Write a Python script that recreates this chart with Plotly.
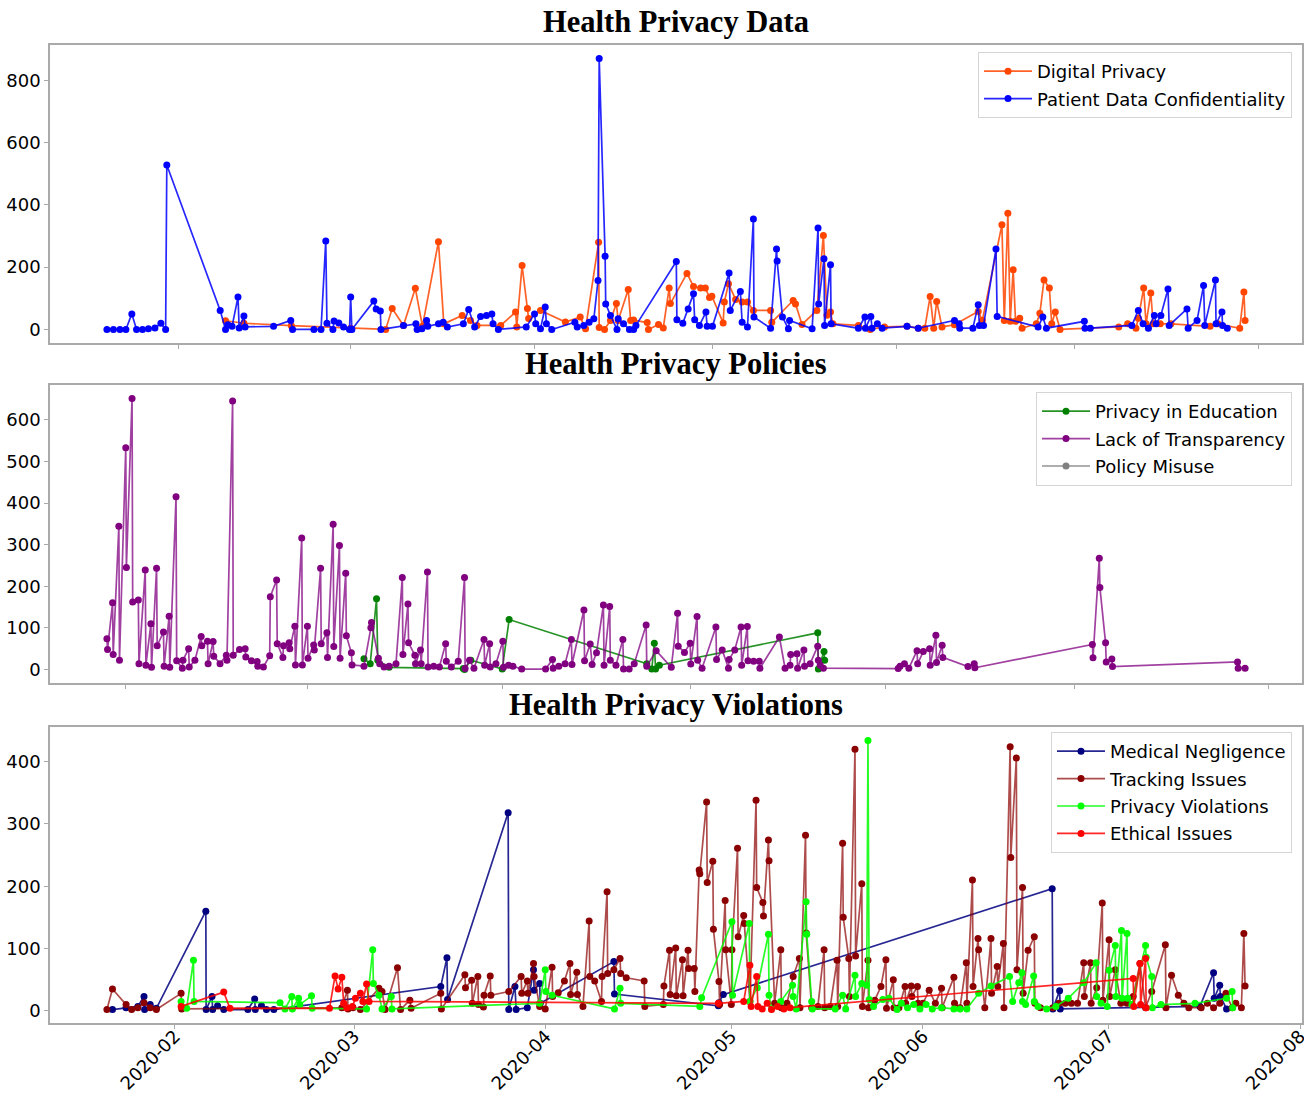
import numpy as np
import pandas as pd
import plotly.graph_objects as go

# ---------------- DATA (day = days since 2020-01-01, value) ----------------
digital_privacy = [(38.9,28),(42.0,20),(50.0,12),(60.0,4),(65.9,0),(67.0,67),(68.9,13),(70.9,132),(72.1,10),(74.8,282),(75.7,18),(78.8,45),(80.2,29),(81.3,13),(85.3,13),(87.8,56),(88.0,8),(88.9,205),(89.8,67),(90.0,35),(92.0,61),(96.2,24),(98.7,40),(99.6,2),(101.8,280),(101.9,6),(102.8,0),(103.8,29),(104.8,83),(105.1,29),(106.8,128),(107.2,29),(107.7,30),(110.0,22),(110.2,0),(111.9,16),(112.7,5),(113.7,133),(113.9,83),(116.7,180),(117.8,138),(119.0,133),(119.8,133),(120.5,103),(120.9,107),(122.8,21),(123.0,88),(123.7,147),(124.9,96),(126.0,88),(126.9,88),(127.9,61),(130.8,61),(131.0,23),(134.6,93),(135.0,82),(136.1,16),(138.6,61),(139.7,302),(140.3,46),(140.9,56),(141.3,18),(145.6,13),(147.6,0),(150.0,8),(153.8,10),(155.7,4),(156.8,4),(157.7,106),(158.3,4),(158.8,90),(159.7,8),(161.8,15),(165.8,58),(166.5,29),(169.8,336),(170.2,29),(170.8,373),(171.2,26),(171.7,192),(172.1,26),(172.8,36),(173.2,4),(175.6,18),(176.2,52),(176.9,159),(177.8,133),(178.2,18),(178.8,56),(179.6,0),(189.5,8),(191.0,18),(192.4,4),(192.8,36),(193.7,133),(194.1,18),(194.9,117),(195.3,18),(196.5,18),(198.3,18),(204.9,10),(206.2,18),(209.9,4),(210.6,120),(210.8,29)]

patient_data = [(18.9,0),(20.0,0),(21.1,0),(22.1,0),(23.1,50),(23.9,0),(24.9,0),(25.9,2),(27.0,5),(28.0,20),(28.8,0),(29.0,528),(38.0,61),(38.9,0),(39.3,15),(40.0,10),(41.0,104),(41.2,5),(42.0,43),(42.2,8),(47.0,10),(49.9,29),(50.2,0),(53.8,0),(55.0,0),(55.8,284),(56.0,20),(57.0,0),(57.2,27),(58.0,21),(58.8,8),(59.8,0),(60.0,104),(60.2,0),(63.9,91),(64.3,66),(65.0,59),(65.1,0),(68.9,13),(71.0,18),(71.2,0),(72.0,2),(72.8,29),(73.0,10),(74.8,18),(75.6,23),(76.3,8),(79.0,18),(79.9,64),(80.9,8),(81.9,42),(82.9,45),(83.8,50),(84.0,18),(84.9,0),(89.6,8),(91.0,50),(91.2,18),(92.0,2),(92.8,72),(93.0,18),(93.9,0),(97.8,23),(98.2,8),(99.3,13),(100.2,23),(101.0,34),(101.7,157),(101.9,870),(102.9,235),(103.0,82),(103.8,45),(104.9,0),(105.1,34),(106.0,18),(107.0,0),(107.7,0),(108.1,13),(114.9,218),(115.0,31),(116.0,20),(116.9,66),(117.8,115),(118.0,31),(118.8,13),(119.9,56),(120.1,10),(121.0,10),(123.8,181),(124.0,61),(125.7,122),(126.0,23),(126.9,8),(127.9,355),(128.0,40),(130.8,4),(131.8,258),(131.9,220),(132.8,40),(133.8,2),(134.0,29),(137.8,2),(138.8,326),(138.9,82),(139.8,227),(139.9,13),(140.9,208),(141.0,18),(145.6,4),(146.7,40),(146.8,4),(147.7,42),(147.9,4),(148.8,18),(149.6,4),(153.8,10),(155.7,4),(161.8,29),(162.6,18),(162.7,4),(164.9,4),(165.8,79),(166.0,13),(166.7,13),(168.8,258),(169.0,42),(175.9,8),(176.7,40),(177.3,4),(183.7,26),(183.8,4),(184.7,4),(191.7,13),(192.8,61),(193.6,18),(194.5,4),(195.5,45),(195.8,18),(196.6,45),(197.8,130),(198.0,13),(201.0,66),(201.2,4),(202.7,29),(203.8,141),(204.0,13),(205.8,159),(205.9,18),(206.9,56),(207.0,13),(207.8,4)]

privacy_education = [(69.0,26),(70.0,14),(71.0,170),(71.2,22),(73.0,5),(84.8,2),(85.0,0),(86.0,22),(91.0,1),(92.1,120),(114.0,14),(114.8,1),(115.2,63),(115.4,1),(116.0,10),(141.2,88),(141.3,1),(142.2,43),(142.3,22)]

lack_transparency = [(28.1,74),(28.2,48),(29.0,160),(29.1,36),(30.0,344),(30.1,22),(31.1,533),(31.2,245),(32.1,651),(32.2,162),(33.1,167),(33.2,14),(34.2,239),(34.3,10),(35.1,110),(35.2,5),(36.0,243),(36.1,57),(37.1,90),(37.2,8),(38.0,128),(38.1,5),(39.1,415),(39.2,21),(40.1,3),(40.2,22),(41.1,50),(41.2,6),(42.1,22),(43.1,79),(43.2,57),(44.1,68),(44.2,14),(45.0,67),(45.1,32),(46.1,14),(47.1,34),(47.2,22),(48.1,645),(48.2,34),(49.2,48),(50.1,50),(50.2,30),(51.1,21),(52.0,19),(52.1,8),(53.0,6),(54.0,33),(54.1,175),(55.1,215),(55.2,62),(56.1,29),(56.2,57),(57.1,64),(57.2,50),(58.0,104),(58.1,11),(59.1,316),(59.2,11),(60.0,104),(60.1,27),(61.0,59),(61.1,47),(62.1,243),(62.2,62),(63.1,88),(63.2,29),(64.1,349),(64.2,55),(65.1,298),(65.2,27),(66.1,231),(66.2,81),(67.0,40),(67.1,11),(69.0,8),(70.1,100),(70.2,113),(71.3,27),(71.5,14),(72.2,6),(73.0,8),(74.1,14),(75.1,221),(75.2,36),(76.0,157),(76.1,64),(77.1,34),(77.2,14),(78.0,47),(78.1,14),(79.1,234),(79.2,6),(80.1,8),(81.0,6),(82.0,62),(82.1,20),(82.9,6),(84.0,20),(85.0,221),(85.1,2),(85.8,22),(86.5,3),(88.1,72),(88.2,10),(89.0,62),(89.1,6),(90.0,14),(91.1,68),(91.2,5),(92.0,10),(92.7,8),(94.1,1),(97.9,1),(99.0,24),(99.1,3),(100.0,8),(101.0,14),(102.0,72),(102.1,12),(104.0,143),(104.1,21),(105.0,61),(105.3,12),(106.0,40),(107.1,155),(107.2,10),(108.1,151),(108.2,22),(109.1,10),(110.2,72),(110.3,1),(111.2,1),(112.0,14),(113.9,107),(114.0,8),(115.5,45),(117.9,5),(118.9,135),(119.0,56),(120.0,41),(120.9,63),(121.0,13),(122.0,127),(122.1,22),(122.8,3),(125.0,102),(125.1,24),(126.0,47),(127.0,3),(127.1,24),(128.0,47),(129.0,102),(129.1,10),(130.0,103),(130.1,21),(131.0,20),(131.9,20),(132.0,3),(135.1,78),(136.0,3),(136.8,10),(136.9,36),(137.9,38),(138.0,3),(139.0,47),(139.1,8),(140.0,14),(141.2,56),(141.3,22),(141.6,10),(142.1,3),(154.0,2),(154.3,8),(155.0,14),(155.7,3),(157.0,45),(157.1,14),(158.0,43),(159.0,50),(159.1,10),(160.0,82),(160.1,17),(161.0,58),(161.1,29),(165.1,7),(166.1,14),(166.2,4),(184.9,60),(185.0,28),(186.0,267),(186.1,197),(187.0,64),(187.1,18),(188.0,25),(188.1,7),(208.0,18),(208.1,3),(209.2,3)]

policy_misuse = []

medical_negligence = [(20.9,2),(23.1,5),(25.0,7),(26.0,23),(26.1,2),(27.0,10),(28.0,4),(36.0,160),(36.05,2),(37.0,23),(37.1,2),(37.9,8),(38.9,2),(42.8,2),(43.9,19),(44.0,2),(45.0,8),(45.8,2),(47.0,2),(74.0,39),(75.0,85),(75.1,18),(84.9,318),(85.0,2),(86.0,39),(86.2,2),(88.0,5),(89.0,66),(89.1,33),(90.0,44),(90.1,12),(102.0,79),(102.1,27),(118.9,8),(119.0,13),(119.7,26),(172.9,196),(173.0,3),(174.1,32),(174.2,3),(196.8,7),(199.0,61),(199.1,20),(200.0,41),(200.1,23),(201.1,3)]

tracking_issues = [(20.0,2),(20.9,35),(23.1,10),(24.0,2),(25.0,5),(26.0,13),(27.0,5),(28.0,2),(32.0,28),(32.1,3),(58.0,5),(58.9,33),(59.0,3),(59.8,5),(61.0,2),(64.0,36),(64.5,31),(65.0,2),(67.0,69),(67.5,2),(69.0,17),(69.2,4),(74.0,28),(74.1,3),(77.9,58),(78.0,37),(79.0,49),(79.1,12),(80.0,55),(80.1,10),(80.9,6),(81.0,25),(82.0,56),(82.1,25),(85.0,31),(87.0,55),(87.1,28),(88.0,48),(88.1,28),(89.0,76),(89.1,55),(90.0,7),(90.9,3),(92.0,70),(92.1,23),(93.0,29),(94.0,48),(94.9,76),(95.0,26),(96.0,62),(96.1,26),(97.0,7),(98.0,144),(98.1,55),(98.9,48),(100.0,15),(100.1,55),(100.9,191),(101.0,60),(102.0,66),(103.0,84),(103.1,60),(104.0,53),(106.9,48),(107.0,7),(110.0,10),(110.1,40),(111.0,97),(111.1,26),(112.0,101),(112.1,24),(113.1,82),(113.2,24),(114.0,97),(114.1,68),(115.0,68),(115.1,31),(115.8,226),(115.9,220),(117.0,335),(117.1,206),(118.0,240),(118.1,131),(119.0,47),(119.1,10),(120.0,177),(120.1,98),(121.0,10),(121.1,98),(122.0,261),(122.1,119),(123.0,153),(123.1,140),(124.0,15),(125.0,338),(125.1,198),(126.1,174),(126.2,152),(127.0,274),(127.1,241),(128.0,12),(129.0,98),(129.1,5),(130.0,12),(131.0,55),(132.0,84),(132.1,5),(133.0,282),(133.1,125),(134.0,5),(135.0,7),(136.0,98),(136.1,5),(137.0,7),(138.1,81),(138.2,7),(139.0,269),(139.1,150),(140.0,84),(140.1,23),(141.0,420),(141.1,88),(142.1,204),(142.2,7),(143.1,81),(143.2,5),(144.2,17),(145.2,39),(146.0,82),(146.1,4),(147.2,50),(147.3,5),(148.1,5),(149.1,39),(149.2,12),(150.1,40),(150.2,23),(151.1,39),(151.2,12),(152.0,12),(153.0,33),(154.0,12),(155.0,36),(155.1,5),(157.0,54),(157.1,12),(158.0,5),(159.0,77),(159.1,12),(160.0,210),(160.1,39),(160.9,116),(161.0,98),(162.0,5),(163.0,116),(163.1,28),(164.0,71),(164.1,39),(165.0,108),(165.1,5),(166.1,424),(166.2,246),(167.1,406),(167.2,66),(168.1,198),(168.2,28),(169.0,97),(170.0,119),(170.1,12),(171.0,5),(173.0,5),(174.0,12),(175.0,12),(176.0,12),(177.0,12),(178.0,77),(178.1,23),(179.1,77),(179.2,12),(180.1,37),(181.0,173),(181.1,17),(182.1,114),(182.2,23),(183.1,66),(184.0,12),(185.0,12),(186.0,23),(187.1,76),(188.0,5),(189.0,31),(191.2,106),(191.3,5),(192.2,57),(193.3,25),(194.2,12),(195.0,5),(197.0,5),(198.0,12),(199.0,5),(200.0,12),(201.0,28),(202.0,5),(202.6,12),(203.5,5),(203.9,124),(204.1,40)]

privacy_violations = [(32.0,15),(32.9,4),(34.0,81),(34.1,15),(48.0,13),(48.8,3),(49.9,23),(50.0,3),(51.0,20),(51.2,10),(53.1,24),(53.2,4),(62.0,3),(63.0,98),(63.1,44),(64.0,25),(64.5,3),(66.0,23),(66.1,3),(90.0,12),(90.9,66),(91.0,31),(92.0,25),(102.1,3),(103.0,36),(103.1,12),(115.9,7),(116.2,21),(121.1,143),(121.2,25),(123.9,140),(124.0,15),(125.2,37),(127.0,123),(127.1,25),(127.5,3),(129.0,15),(130.9,41),(131.0,23),(131.5,3),(133.1,175),(133.2,123),(134.0,15),(134.1,3),(137.8,3),(139.0,25),(139.5,3),(141.0,57),(141.1,23),(142.1,44),(142.9,41),(143.1,434),(143.3,18),(144.0,7),(145.5,18),(146.5,20),(147.8,2),(148.5,12),(149.5,5),(150.5,10),(151.5,3),(152.5,10),(153.5,3),(155.0,5),(157.0,3),(158.0,3),(159.1,3),(161.0,28),(163.0,40),(166.0,55),(166.5,15),(167.5,45),(168.0,61),(168.1,15),(168.6,10),(169.9,56),(170.0,15),(170.6,7),(172.0,3),(173.5,7),(175.5,20),(178.0,45),(180.0,77),(180.1,23),(180.8,12),(181.8,7),(182.1,65),(183.1,105),(183.2,23),(184.1,129),(184.2,20),(185.0,124),(185.1,20),(185.8,10),(188.0,105),(188.1,86),(189.0,55),(189.1,5),(190.5,10),(196.0,12),(201.1,20),(202.0,31),(202.1,5)]

ethical_issues = [(32.0,7),(38.9,30),(39.9,4),(56.0,4),(56.9,56),(57.4,35),(58.0,54),(58.3,12),(58.8,5),(59.7,7),(60.2,20),(61.0,28),(61.4,15),(62.0,43),(62.4,15),(118.9,12),(123.0,15),(124.0,73),(124.2,7),(125.1,55),(125.3,7),(126.0,3),(126.8,12),(127.5,2),(128.5,7),(129.5,3),(130.5,5),(186.0,52),(186.1,7),(187.1,76),(187.2,10),(188.0,84),(188.1,5)]

panel_titles = ["Health Privacy Data", "Health Privacy Policies", "Health Privacy Violations"]

BASE = pd.Timestamp("2020-01-01")


def to_xy(pairs):
    if not pairs:
        return [None], [None]
    d = np.array([p[0] for p in pairs], dtype=float)
    v = [p[1] for p in pairs]
    dates = BASE + pd.to_timedelta(d, unit="D")
    return list(dates), v


panels = [
    [("Digital Privacy", digital_privacy, "orangered"),
     ("Patient Data Confidentiality", patient_data, "blue")],
    [("Privacy in Education", privacy_education, "green"),
     ("Lack of Transparency", lack_transparency, "purple"),
     ("Policy Misuse", policy_misuse, "gray")],
    [("Medical Negligence", medical_negligence, "navy"),
     ("Tracking Issues", tracking_issues, "darkred"),
     ("Privacy Violations", privacy_violations, "lime"),
     ("Ethical Issues", ethical_issues, "red")],
]

W, H = 1304, 1096
xdom = [50 / W, 1302 / W]
ydoms = [[1 - 343 / H, 1 - 45 / H], [1 - 683 / H, 1 - 385 / H], [1 - 1023 / H, 1 - 727 / H]]
title_y = [1 - 22 / H, 1 - 364 / H, 1 - 705 / H]
legend_top = [1 - 52 / H, 1 - 392 / H, 1 - 732 / H]
ydticks = [200, 100, 100]

RGBA = {"orangered": "rgba(255,69,0,0.85)", "blue": "rgba(0,0,255,0.85)",
        "green": "rgba(0,128,0,0.85)", "purple": "rgba(128,0,128,0.75)",
        "gray": "rgba(128,128,128,0.85)", "navy": "rgba(0,0,128,0.85)",
        "darkred": "rgba(139,0,0,0.7)", "lime": "rgba(0,255,0,0.85)",
        "red": "rgba(255,0,0,0.85)"}

fig = go.Figure()
layout = {}
annotations = []
AX = "#aaaaaa"
TICKFONT = dict(family="DejaVu Sans", size=18, color="black")

for i, series in enumerate(panels):
    n = i + 1
    xa = "x" if n == 1 else f"x{n}"
    ya = "y" if n == 1 else f"y{n}"
    leg = "legend" if n == 1 else f"legend{n}"
    all_d, all_v = [], []
    for name, pairs, color in series:
        xs, ys = to_xy(pairs)
        all_d += [p[0] for p in pairs]
        all_v += [p[1] for p in pairs]
        fig.add_trace(go.Scatter(
            x=xs, y=ys, mode="lines+markers", name=name,
            line=dict(color=RGBA[color], width=1.7),
            marker=dict(color=color, size=7),
            xaxis=xa, yaxis=ya, legend=leg, legendgroup=name))
    dmin, dmax = min(all_d), max(all_d)
    span = dmax - dmin
    xr = [BASE + pd.to_timedelta(dmin - 0.05 * span, unit="D"),
          BASE + pd.to_timedelta(dmax + 0.05 * span, unit="D")]
    vmin, vmax = min(all_v), max(all_v)
    vs = vmax - vmin
    yr = [vmin - 0.05 * vs, vmax + 0.05 * vs]

    xkey = "xaxis" if n == 1 else f"xaxis{n}"
    ykey = "yaxis" if n == 1 else f"yaxis{n}"
    layout[xkey] = dict(
        type="date", domain=xdom, anchor=ya, range=[str(xr[0]), str(xr[1])],
        tick0="2020-01-01", dtick="M1", tickformat="%Y-%m",
        showticklabels=(n == 3), tickangle=-45, tickfont=TICKFONT,
        ticklabelstandoff=-10, ticklabeloverflow="allow",
        ticks="outside", ticklen=4, tickcolor=AX, showgrid=False, zeroline=False,
        showline=True, linecolor=AX, linewidth=1.5, mirror=True, automargin=False)
    layout[ykey] = dict(
        domain=ydoms[i], anchor=xa, range=yr, tick0=0, dtick=ydticks[i],
        tickfont=TICKFONT, ticks="outside", ticklen=4, tickcolor=AX,
        showgrid=False, zeroline=False, showline=True, linecolor=AX,
        linewidth=1.5, mirror=True, automargin=False)
    layout[leg] = dict(
        x=1292 / W, y=legend_top[i], xanchor="right", yanchor="top",
        bgcolor="rgba(255,255,255,0.9)", bordercolor="#d5d5d5", borderwidth=1,
        font=dict(family="DejaVu Sans", size=18, color="black"),
        tracegroupgap=1, itemwidth=48)
    annotations.append(dict(
        text=f"<b>{panel_titles[i]}</b>", x=(xdom[0] + xdom[1]) / 2, y=title_y[i],
        xref="paper", yref="paper", xanchor="center", yanchor="middle",
        showarrow=False, font=dict(family="Liberation Serif", size=30.5, color="black")))

fig.update_layout(
    width=W, height=H, margin=dict(l=0, r=0, t=0, b=0),
    paper_bgcolor="white", plot_bgcolor="white",
    annotations=annotations, showlegend=True, **layout)

fig.write_html(
    "out.html", config={"displayModeBar": False},
    post_script="document.body.style.margin='0';document.body.style.overflow='hidden';")
